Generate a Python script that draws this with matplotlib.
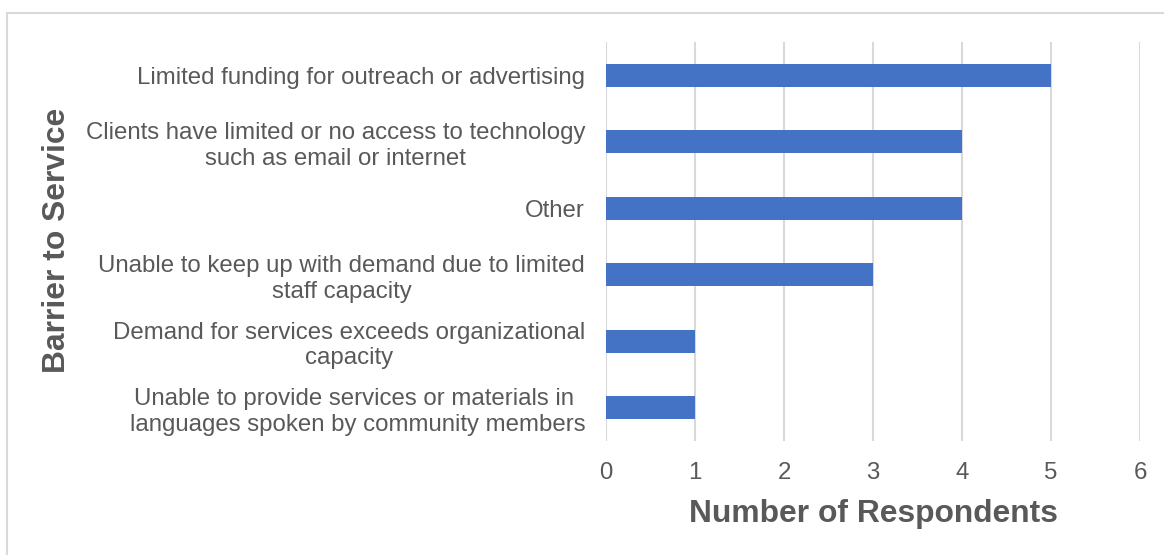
import matplotlib.pyplot as plt
from matplotlib.patches import Rectangle

plt.rcParams['font.family'] = ['Liberation Sans', 'DejaVu Sans']

barriers = [
    'Limited funding for outreach or advertising',
    'Clients have limited or no access to technology\nsuch as email or internet',
    'Other',
    'Unable to keep up with demand due to limited\nstaff capacity',
    'Demand for services exceeds organizational\ncapacity',
    'Unable to provide services or materials in \nlanguages spoken by community members',
]
respondents = [5, 4, 4, 3, 1, 1]
xticks = [0, 1, 2, 3, 4, 5, 6]

text_col = '#595959'
grid_col = '#D9D9D9'

fig = plt.figure(figsize=(11.64, 5.55), dpi=100)
ax = fig.add_axes([606 / 1164, 1 - 441 / 555, 534 / 1164, 399 / 555])

ypos = list(range(len(barriers)))
ax.barh(ypos, respondents, height=0.35, color='#4472C4', zorder=3)
ax.set_ylim(len(barriers) - 0.5, -0.5)
ax.set_xlim(0, 6)
ax.set_xticks(xticks)
ax.set_yticks(ypos)
ax.set_yticklabels(barriers, multialignment='center', linespacing=1.22)

ax.grid(axis='x', color=grid_col, linewidth=1.5, zorder=0)
ax.grid(axis='y', visible=False)
for s in ax.spines.values():
    s.set_visible(False)

ax.tick_params(axis='y', length=0, pad=15, labelsize=17.3, labelcolor=text_col)
ax.tick_params(axis='x', length=0, pad=15, labelsize=17.3, labelcolor=text_col)

ax.set_xlabel('Number of Respondents', fontsize=22.9, fontweight='bold',
              color=text_col, labelpad=11)
fig.text(57 / 1164, 1 - 240 / 555, 'Barrier to Service', rotation=90,
         ha='center', va='center', fontsize=22.9, fontweight='bold', color=text_col)

# chart-area frame, running off the right and bottom edges
fig.patches.append(Rectangle((6.5 / 1164, -0.1), 1.2, 1 - 12.5 / 555 + 0.1,
                             transform=fig.transFigure, fill=False,
                             edgecolor=grid_col, linewidth=1.5))

fig.savefig('out.png', dpi=100)
